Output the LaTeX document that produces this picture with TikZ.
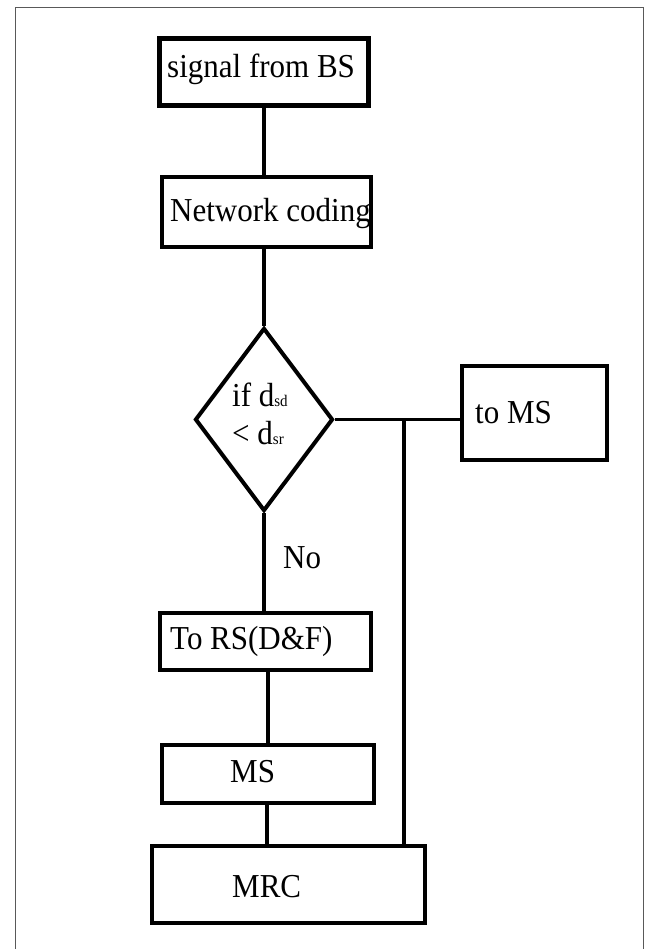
\documentclass[tikz,border=0pt]{standalone}
\usepackage{fontspec}
\setmainfont{Liberation Serif}
\usetikzlibrary{shapes.geometric}
\newcommand\vstr[1]{\scalebox{1}[1.08]{#1}}
\begin{document}
\begin{tikzpicture}[x=1pt,y=-1pt,
  boxst/.style={draw,line width=4.5pt,rectangle,inner sep=0pt,minimum width=#1},
  lbl/.style={anchor=base west,inner sep=0pt,font=\fontsize{31}{34}\selectfont},
  conn/.style={line width=3.8pt}]
\useasboundingbox (0,0) rectangle (647,949);
% frame
\draw[gray!70!black,line width=1pt] (15,949) -- (15,8) -- (643,8) -- (643,949);
% boxes
\node[boxst=209,minimum height=67] (sig) at (264,72) {};
\node[boxst=209,minimum height=70] (nc) at (266.5,212) {};
\node[draw,diamond,line width=4pt,inner sep=0pt,minimum width=138,minimum height=183] (dia) at (264,419.5) {};
\node[boxst=145,minimum height=94] (tms) at (534.5,413) {};
\node[boxst=211,minimum height=57] (rs) at (265.5,641.5) {};
\node[boxst=212,minimum height=58] (ms) at (268,774) {};
\node[boxst=273,minimum height=77] (mrc) at (288.5,884.5) {};
% texts
\node[lbl] (tsig) at (167,78) {\vstr{signal from BS}};
\node[lbl] (tnc) at (170,222) {\vstr{Network coding}};
\node[lbl] (tif) at (232,406) {\vstr{if d{\fontsize{15}{15}\selectfont sd}}};
\node[lbl] (tlt) at (232,444) {\vstr{< d{\fontsize{15}{15}\selectfont sr}}};
\node[lbl] (ttms) at (475,423) {\vstr{to MS}};
\node[lbl] (tno) at (283,568) {\vstr{No}};
\node[lbl] (trs) at (170,649) {\vstr{To RS(D\&F)}};
\node[lbl] (tms2) at (230,782) {\vstr{MS}};
\node[lbl] (tmrc) at (232,897) {\vstr{MRC}};
% connectors
\coordinate (j) at (404,419);
\draw[conn] (sig.south) -- (sig.south |- nc.north);
\draw[conn] (dia.north |- nc.south) -- (dia.north);
\draw[conn] (dia.south) -- (dia.south |- rs.north);
\draw[conn] (ms.north |- rs.south) -- (ms.north);
\draw[conn] (267,0 |- ms.south) -- (267,0 |- mrc.north);
\draw[conn] (dia.east) -- (dia.east -| tms.west);
\draw[conn] (j) -- (j |- mrc.north);
\end{tikzpicture}
\end{document}
